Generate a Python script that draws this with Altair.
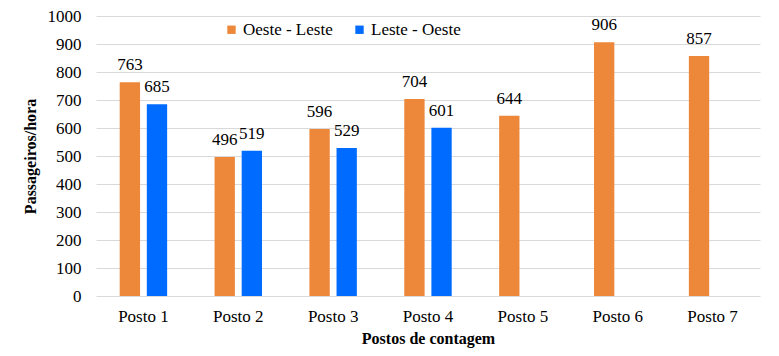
import altair as alt
import pandas as pd

postos = ["Posto 1", "Posto 2", "Posto 3", "Posto 4", "Posto 5", "Posto 6", "Posto 7"]
series = ["Oeste - Leste", "Leste - Oeste"]
oeste_leste = [763, 496, 596, 704, 644, 906, 857]
leste_oeste = [685, 519, 529, 601, None, None, None]
colors = ["#ED883B", "#006CFF"]

rows = []
for p, a, b in zip(postos, oeste_leste, leste_oeste):
    rows.append({"posto": p, "serie": series[0], "valor": a})
    if b is not None:
        rows.append({"posto": p, "serie": series[1], "valor": b})
df = pd.DataFrame(rows)

FONT = "Times New Roman, Liberation Serif, DejaVu Serif, serif"

x = alt.X("posto:N", sort=postos,
          scale=alt.Scale(paddingInner=0.5, paddingOuter=0.25),
          axis=alt.Axis(title="Postos de contagem", labelAngle=0, labelFontSize=17,
                        titleFontSize=16, titleFontWeight="bold", labelPadding=12,
                        titlePadding=6, ticks=False, domain=False, labelColor="#000",
                        titleColor="#000", labelFont=FONT, titleFont=FONT))
xo = alt.XOffset("serie:N", sort=series, scale=alt.Scale(domain=series, paddingInner=0.25))
y = alt.Y("valor:Q", scale=alt.Scale(domain=[0, 1000], nice=False),
          axis=alt.Axis(title="Passageiros/hora", values=list(range(0, 1001, 100)),
                        format="d",
                        labelFontSize=17, titleFontSize=16, titleFontWeight="bold",
                        ticks=False, domain=False, labelPadding=15, titlePadding=9,
                        gridColor="#d9d9d9", gridWidth=1, labelColor="#000",
                        titleColor="#000", labelFont=FONT, titleFont=FONT))
color = alt.Color("serie:N", sort=series,
                  scale=alt.Scale(domain=series, range=colors),
                  legend=alt.Legend(title=None, orient="none", direction="horizontal",
                                    legendX=127, legendY=5, symbolType="square",
                                    symbolSize=70, symbolStrokeWidth=0,
                                    labelFontSize=17, labelFont=FONT, labelColor="#000",
                                    columnPadding=18, labelOffset=3))

bars = alt.Chart(df).mark_bar().encode(x=x, xOffset=xo, y=y, color=color)
labels = alt.Chart(df).mark_text(dy=-8, baseline="bottom", fontSize=17, font=FONT,
                                  color="#000").encode(
    x=x, xOffset=xo, y=y, text=alt.Text("valor:Q"))

chart = (bars + labels).properties(
    width=664, height=280,
    autosize=alt.AutoSizeParams(type="none"),
    padding={"left": 88, "top": 8, "right": 10, "bottom": 52},
).configure_view(stroke=None).configure_axis(grid=True).configure_axisX(grid=False)

chart.save("out.html", embed_options={"renderer": "svg", "actions": False})
